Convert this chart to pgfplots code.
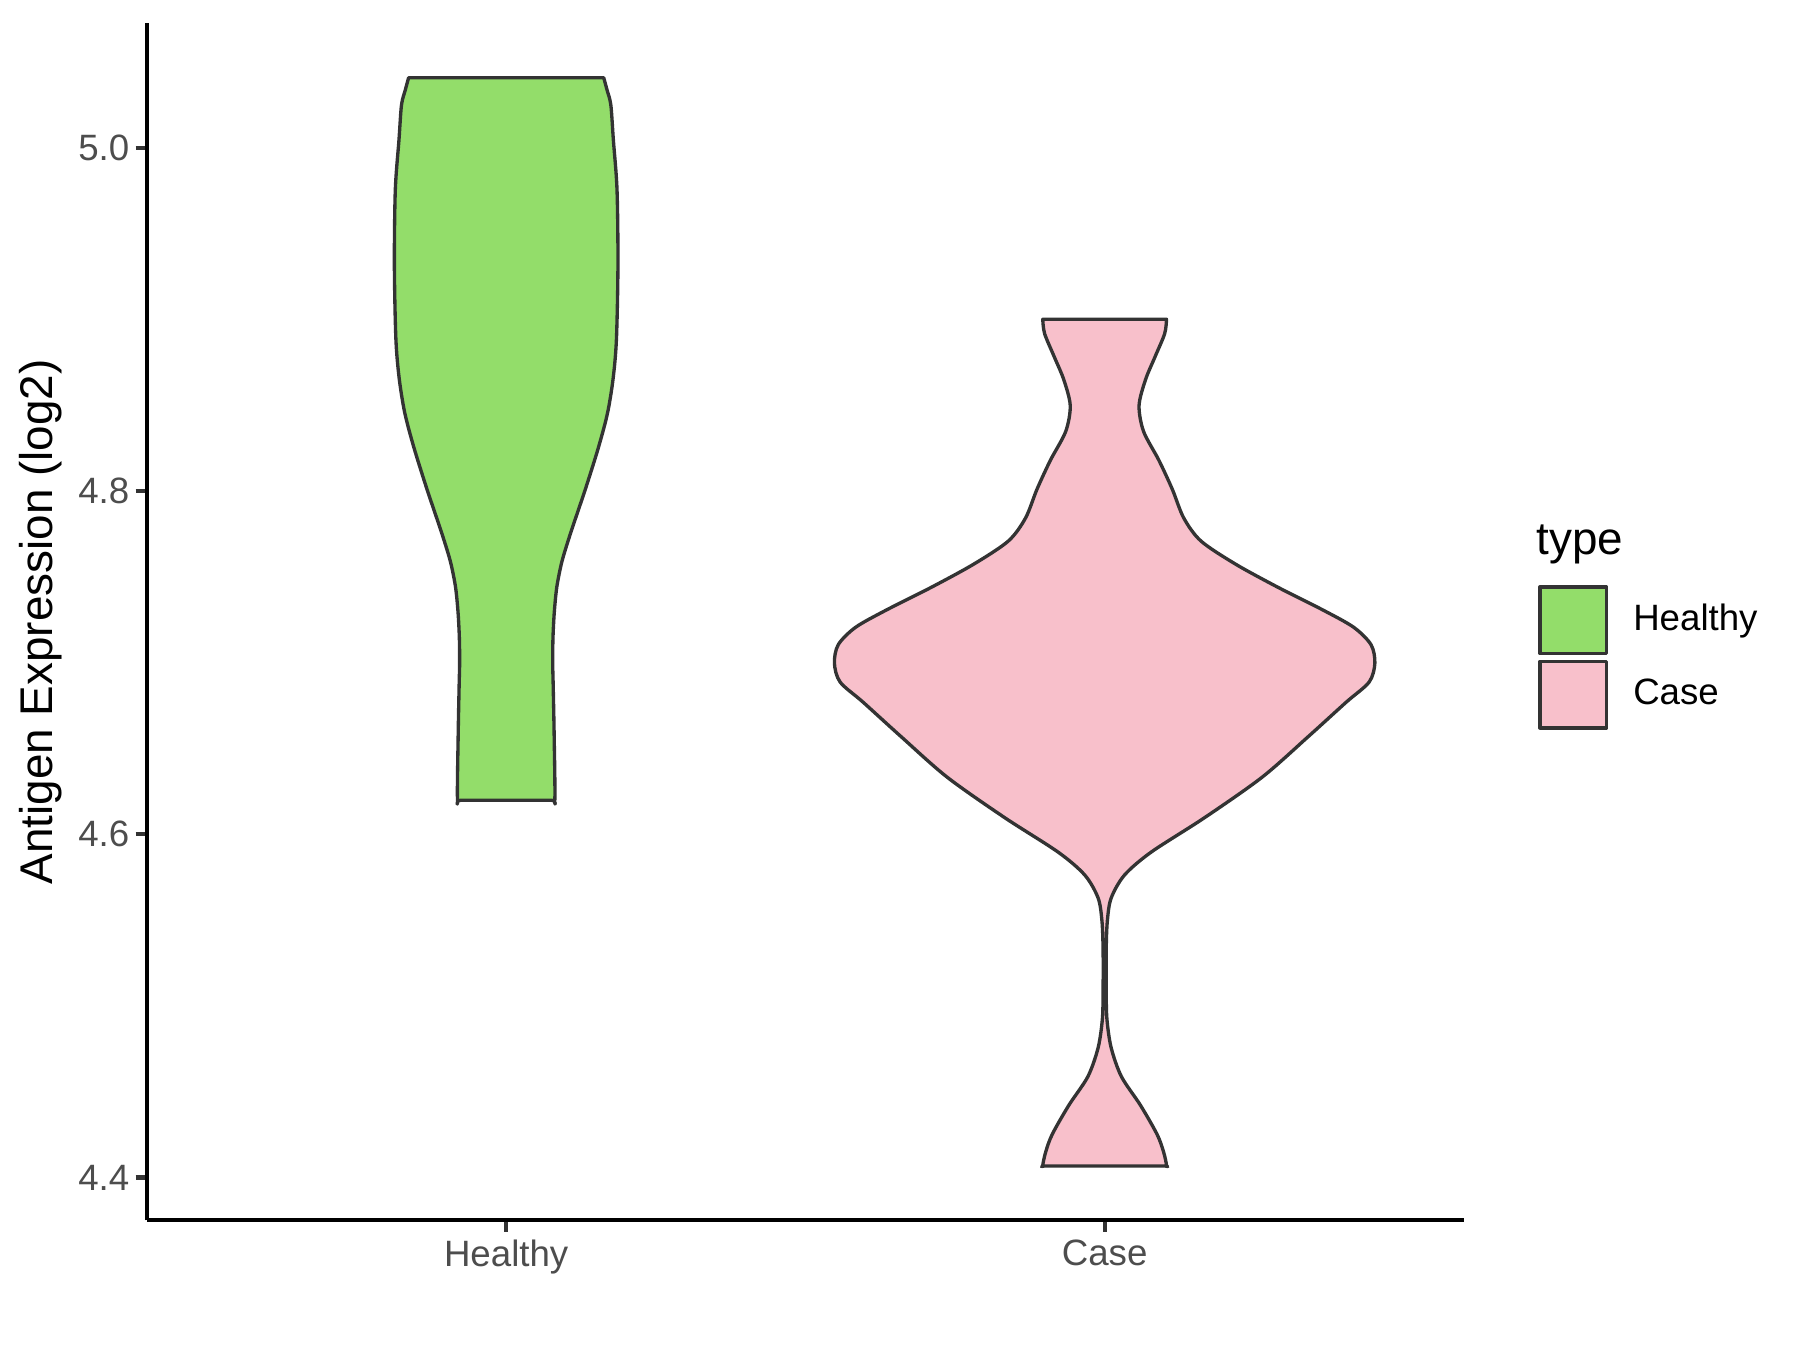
\documentclass[border=0pt]{standalone}
\usepackage{fontspec}
\setmainfont{Liberation Sans}
\usepackage{pgfplots}
\pgfplotsset{compat=1.18}

\definecolor{hgreen}{HTML}{93DD6A}
\definecolor{cpink}{HTML}{F8C0CB}
\definecolor{olc}{HTML}{333333}
\definecolor{tickc}{HTML}{4D4D4D}

\begin{document}
\begin{tikzpicture}
\path[use as bounding box] (-35.3pt,-31.1pt) rectangle (396.7pt,292.9pt);
\begin{axis}[
    at={(0,0)}, anchor=south west,
    scale only axis,
    width=316pt, height=287.3pt,
    xmin=0.4, xmax=2.6,
    ymin=4.375, ymax=5.0724,
    axis x line*=bottom, axis y line*=left,
    axis line style={line width=1pt, black},
    xtick={1,2}, xticklabels={Healthy,Case},
    ytick={4.4,4.6,4.8,5.0},
    yticklabel style={/pgf/number format/fixed, /pgf/number format/fixed zerofill, /pgf/number format/precision=1, xshift=2pt},
    xticklabel style={yshift=1.7pt},
    /pgf/number format/assume math mode=true,
    tick align=outside,
    major tick length=2.75pt,
    tick style={line width=1pt, olc},
    tick label style={font=\fontsize{8.8}{10}\selectfont, text=tickc},
    ylabel={Antigen Expression (log2)},
    ylabel style={font=\fontsize{11}{13}\selectfont, at={(axis description cs:-0.081,0.5)}, anchor=center},
    clip=false,
    legend style={draw=none, fill=none, at={(axis description cs:1.0566,0.5305)}, anchor=north west,
        inner sep=0pt, outer sep=0pt, font=\fontsize{8.8}{10}\selectfont, row sep=1pt,
        nodes={inner sep=0pt}, /tikz/every odd column/.append style={column sep=6pt}},
    legend cell align=left,
    legend image code/.code={\draw[#1, sharp plot] (0pt,-8pt) rectangle (16pt,8pt);},
]
\addplot[fill=hgreen, draw=olc, line width=0.8pt, line join=round, smooth, tension=0.5] coordinates {
    (1.163,5.0407) (1.1686,5.0335) (1.1749,5.0248) (1.1791,5.0045) (1.1852,4.9756) (1.1868,4.9322)
    (1.1843,4.8888) (1.1788,4.8657) (1.1694,4.8454) (1.1541,4.8252) (1.1333,4.8020) (1.1194,4.7876)
    (1.1055,4.7731) (1.0930,4.7586) (1.0847,4.7442) (1.0805,4.7297) (1.0783,4.7153) (1.0777,4.7008)
    (1.0786,4.6863) (1.0802,4.6574) (1.0813,4.6198) (1.075,4.6198) (1.0,4.6198) (0.925,4.6198)
    (0.9187,4.6198) (0.9198,4.6574) (0.9214,4.6863) (0.9223,4.7008) (0.9217,4.7153) (0.9195,4.7297)
    (0.9153,4.7442) (0.9070,4.7586) (0.8945,4.7731) (0.8806,4.7876) (0.8667,4.8020) (0.8459,4.8252)
    (0.8306,4.8454) (0.8212,4.8657) (0.8157,4.8888) (0.8132,4.9322) (0.8148,4.9756) (0.8209,5.0045)
    (0.8251,5.0248) (0.8314,5.0335) (0.837,5.0407)
} -- cycle;
\addlegendentry{Healthy}
\addplot[fill=cpink, draw=olc, line width=0.8pt, line join=round, smooth, tension=0.5] coordinates {
    (2.1034,4.9000) (2.1003,4.8916) (2.0843,4.8782) (2.0683,4.8648) (2.0575,4.8497) (2.0651,4.8346)
    (2.0907,4.8178) (2.1130,4.8010) (2.1322,4.7842) (2.1609,4.7708) (2.2184,4.7574) (2.2887,4.7440)
    (2.3653,4.7305) (2.4163,4.7205) (2.4451,4.7104) (2.4515,4.6996) (2.4419,4.6886) (2.4036,4.6769)
    (2.3397,4.6567) (2.2631,4.6332) (2.1673,4.6097) (2.0779,4.5896) (2.0332,4.5762) (2.0109,4.5628)
    (2.0045,4.5494) (2.0026,4.5326) (2.0026,4.5091) (2.0038,4.4923) (2.0109,4.4756) (2.0280,4.4588)
    (2.0600,4.4420) (2.0875,4.4252) (2.0983,4.4151) (2.1034,4.4067) (2.097,4.4067) (2.0,4.4067) (1.903,4.4067)
    (1.8966,4.4067) (1.9017,4.4151) (1.9125,4.4252) (1.9400,4.4420) (1.9720,4.4588) (1.9891,4.4756)
    (1.9962,4.4923) (1.9974,4.5091) (1.9974,4.5326) (1.9955,4.5494) (1.9891,4.5628) (1.9668,4.5762)
    (1.9221,4.5896) (1.8327,4.6097) (1.7369,4.6332) (1.6603,4.6567) (1.5964,4.6769) (1.5581,4.6886)
    (1.5485,4.6996) (1.5549,4.7104) (1.5837,4.7205) (1.6347,4.7305) (1.7113,4.7440) (1.7816,4.7574)
    (1.8391,4.7708) (1.8678,4.7842) (1.8870,4.8010) (1.9093,4.8178) (1.9349,4.8346) (1.9425,4.8497)
    (1.9317,4.8648) (1.9157,4.8782) (1.8997,4.8916) (1.8966,4.9000)
} -- cycle;
\addlegendentry{Case}
\node[anchor=base west, font=\fontsize{11}{13}\selectfont, inner sep=0pt] at (axis description cs:1.0548,0.5562) {type};
\end{axis}
\end{tikzpicture}
\end{document}
